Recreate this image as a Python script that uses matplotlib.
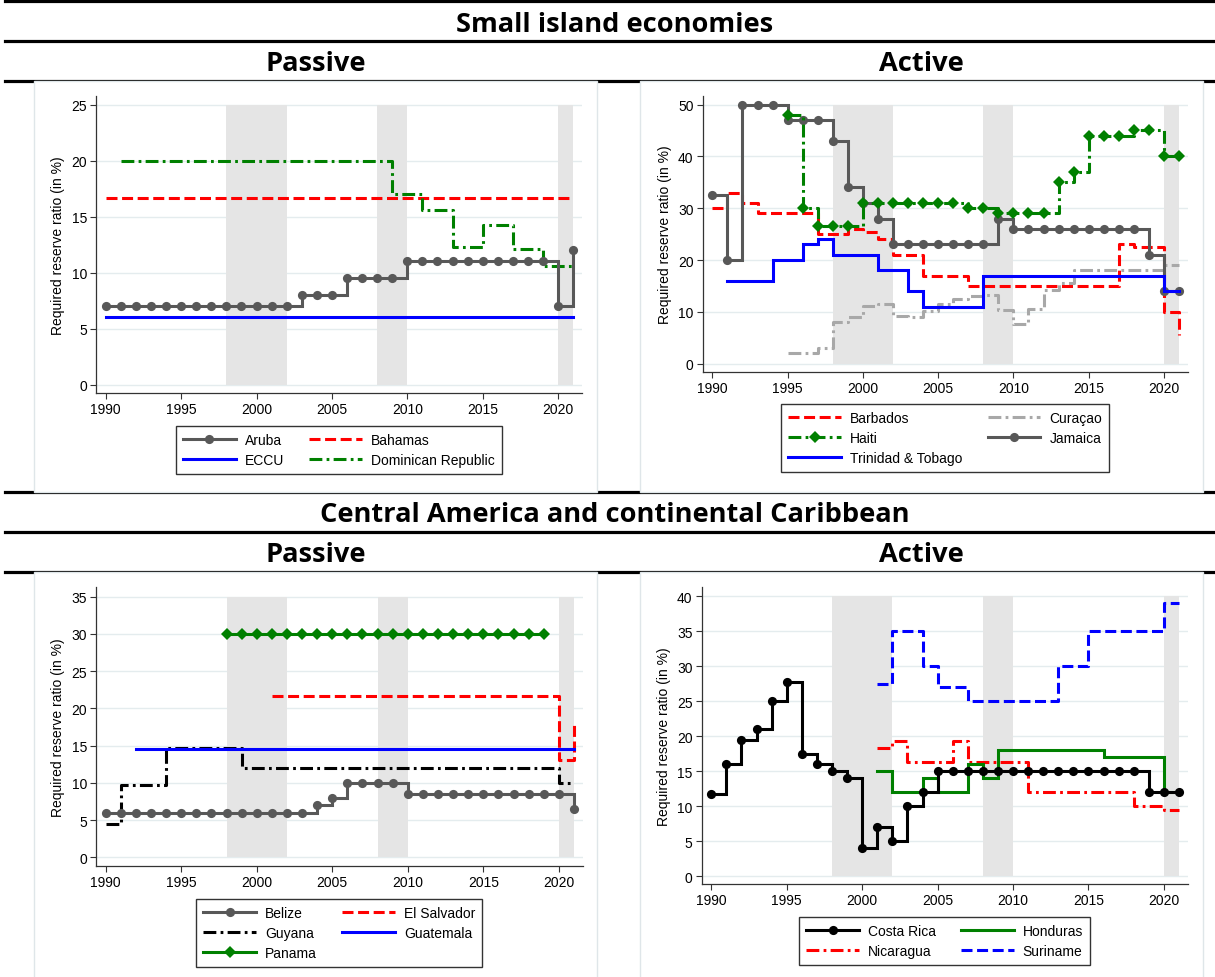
import numpy as np
import matplotlib
matplotlib.use("Agg")
import matplotlib.pyplot as plt
from matplotlib.patches import Rectangle
from matplotlib.lines import Line2D

W, H = 1215, 978
N = None
YEARS = list(range(1990, 2022))
BANDS = [(1998, 2002), (2008, 2010), (2020, 2021)]
XTICKS = [1990, 1995, 2000, 2005, 2010, 2015, 2020]
YLABEL = "Required reserve ratio (in %)"

# ---- Small island economies: passive ----
aruba = [7, 7, 7, 7, 7, 7, 7, 7, 7, 7, 7, 7, 7, 8, 8, 8, 9.5, 9.5, 9.5, 9.5,
         11, 11, 11, 11, 11, 11, 11, 11, 11, 11, 7, 12]
bahamas = [16.67, 16.67, 16.67, 16.67, 16.67, 16.67, 16.67, 16.67, 16.67, 16.67,
           16.67, 16.67, 16.67, 16.67, 16.67, 16.67, 16.67, 16.67, 16.67, 16.67,
           16.67, 16.67, 16.67, 16.67, 16.67, 16.67, 16.67, 16.67, 16.67, 16.67,
           16.67, 16.67]
eccu = [6, 6, 6, 6, 6, 6, 6, 6, 6, 6, 6, 6, 6, 6, 6, 6, 6, 6, 6, 6,
        6, 6, 6, 6, 6, 6, 6, 6, 6, 6, 6, 6]
dominican = [N, 20, 20, 20, 20, 20, 20, 20, 20, 20, 20, 20, 20, 20, 20, 20, 20, 20, 20,
             17, 17, 15.6, 15.6, 12.3, 12.3, 14.3, 14.3, 12.1, 12.1, 10.6, 10.6, 10.6]

# ---- Small island economies: active ----
barbados = [30, 33, 31, 29, 29, 29, 29, 25, 25, 26, 25.5, 24, 21, 21, 17, 17, 17,
            15, 15, 15, 15, 15, 15, 15, 15, 15, 15, 23, 22.5, 22.5, 10, 5.5]
curacao = [N, N, N, N, N, 2, 2, 3, 8, 9, 11.2, 11.5, 9.2, 9.0, 10.2, 11.5, 12.4,
           13.0, 13.3, 10.3, 7.7, 10.5, 14.2, 15.5, 18, 18, 18, 18, 18, 18, 19, 19]
haiti = [N, N, N, N, N, 48, 30, 26.5, 26.5, 26.5, 31, 31, 31, 31, 31, 31, 31,
         30, 30, 29, 29, 29, 29, 35, 37, 44, 44, 44, 45, 45, 40, 40]
jamaica = [32.5, 20, 50, 50, 50, 47, 47, 47, 43, 34, 31, 28, 23, 23, 23, 23, 23, 23, 23,
           28, 26, 26, 26, 26, 26, 26, 26, 26, 26, 21, 14, 14]
trinidad = [N, 16, 16, 16, 20, 20, 23, 24, 21, 21, 21, 18, 18, 14, 11, 11, 11, 11,
            17, 17, 17, 17, 17, 17, 17, 17, 17, 17, 17, 17, 14, 14]

# ---- Central America and continental Caribbean: passive ----
belize = [6, 6, 6, 6, 6, 6, 6, 6, 6, 6, 6, 6, 6, 6, 7, 8, 10, 10, 10, 10,
          8.5, 8.5, 8.5, 8.5, 8.5, 8.5, 8.5, 8.5, 8.5, 8.5, 8.5, 6.5]
el_salvador = [N, N, N, N, N, N, N, N, N, N, N, 21.7, 21.7, 21.7, 21.7, 21.7, 21.7,
               21.7, 21.7, 21.7, 21.7, 21.7, 21.7, 21.7, 21.7, 21.7, 21.7, 21.7, 21.7,
               21.7, 13, 18.3]
guyana = [4.5, 9.7, 9.7, 9.7, 14.7, 14.7, 14.7, 14.7, 14.7, 12, 12, 12, 12, 12, 12, 12,
          12, 12, 12, 12, 12, 12, 12, 12, 12, 12, 12, 12, 12, 12, 10, 10]
guatemala = [N, N, 14.6, 14.6, 14.6, 14.6, 14.6, 14.6, 14.6, 14.6, 14.6, 14.6, 14.6,
             14.6, 14.6, 14.6, 14.6, 14.6, 14.6, 14.6, 14.6, 14.6, 14.6, 14.6, 14.6,
             14.6, 14.6, 14.6, 14.6, 14.6, 14.6, 14.6]
panama = [N, N, N, N, N, N, N, N, 30, 30, 30, 30, 30, 30, 30, 30, 30, 30, 30, 30,
          30, 30, 30, 30, 30, 30, 30, 30, 30, 30, N, N]

# ---- Central America and continental Caribbean: active ----
costa_rica = [11.7, 16, 19.4, 21, 25, 27.7, 17.4, 16, 15, 14, 4, 7, 5, 10, 12,
              15, 15, 15, 15, 15, 15, 15, 15, 15, 15, 15, 15, 15, 15, 12, 12, 12]
honduras = [N, N, N, N, N, N, N, N, N, N, N, 15, 12, 12, 14, 12, 12, 16, 14,
            18, 18, 18, 18, 18, 18, 18, 17, 17, 17, 17, 12, 12]
nicaragua = [N, N, N, N, N, N, N, N, N, N, N, 18.3, 19.3, 16.3, 16.3, 16.3, 19.3,
             16.3, 16.3, 16.3, 16.3, 12, 12, 12, 12, 12, 12, 12, 10, 10, 9.4, 9.4]
suriname = [N, N, N, N, N, N, N, N, N, N, N, 27.5, 35, 35, 30, 27, 27, 25, 25, 25,
            25, 25, 25, 30, 30, 35, 35, 35, 35, 35, 39, 39]

# ---- styling ----
DARK = "#585858"
LIGHT = "#a8a8a8"
GREEN = "#008000"
RED = "#ff0000"
BLUE = "#0000ff"
BLACK = "#000000"
BAND = "#e5e5e5"
GRID = "#e4ecee"
FRAME = "#dfe6e9"
LW = 2.2
DASH = (0, (3.6, 1.5))
DASHDOT = (0, (4.2, 1.4, 0.9, 1.4))

TICK_FONT = "Liberation Sans"
TITLE_FONT = "Open Sans"

STYLE = {
    "Aruba": dict(color=DARK, ls="-", marker="o", ms=6.6),
    "Bahamas": dict(color=RED, ls=DASH),
    "ECCU": dict(color=BLUE, ls="-"),
    "Dominican Republic": dict(color=GREEN, ls=DASHDOT),
    "Barbados": dict(color=RED, ls=DASH),
    "Curaçao": dict(color=LIGHT, ls=DASHDOT),
    "Haiti": dict(color=GREEN, ls=DASHDOT, marker="D", ms=6.0),
    "Jamaica": dict(color=DARK, ls="-", marker="o", ms=6.6),
    "Trinidad & Tobago": dict(color=BLUE, ls="-"),
    "Belize": dict(color=DARK, ls="-", marker="o", ms=6.6),
    "El Salvador": dict(color=RED, ls=DASH),
    "Guyana": dict(color=BLACK, ls=DASHDOT),
    "Guatemala": dict(color=BLUE, ls="-"),
    "Panama": dict(color=GREEN, ls="-", marker="D", ms=6.0),
    "Costa Rica": dict(color=BLACK, ls="-", marker="o", ms=6.6),
    "Honduras": dict(color=GREEN, ls="-"),
    "Nicaragua": dict(color=RED, ls=DASHDOT),
    "Suriname": dict(color=BLUE, ls=DASH),
}

PANELS = [
    dict(box=(96.2, 96.7, 581.7, 394.0), ylim=(-0.74, 25.8), yticks=[0, 5, 10, 15, 20, 25],
         draw=[("Bahamas", bahamas), ("ECCU", eccu), ("Dominican Republic", dominican),
               ("Aruba", aruba)],
         legend=["Aruba", "ECCU", "Bahamas", "Dominican Republic"], leg_top=427),
    dict(box=(702.9, 96.7, 1187.5, 373.0), ylim=(-1.6, 51.7), yticks=[0, 10, 20, 30, 40, 50],
         draw=[("Barbados", barbados), ("Curaçao", curacao), ("Jamaica", jamaica),
               ("Haiti", haiti), ("Trinidad & Tobago", trinidad)],
         legend=["Barbados", "Haiti", "Trinidad & Tobago", "Curaçao", "Jamaica"], leg_top=405),
    dict(box=(96.2, 588.3, 582.5, 866.7), ylim=(-1.13, 36.26), yticks=[0, 5, 10, 15, 20, 25, 30, 35],
         draw=[("El Salvador", el_salvador), ("Guyana", guyana), ("Guatemala", guatemala),
               ("Belize", belize), ("Panama", panama)],
         legend=["Belize", "Guyana", "Panama", "El Salvador", "Guatemala"], leg_top=900),
    dict(box=(701.8, 588.3, 1187.5, 885.0), ylim=(-1.14, 41.28), yticks=[0, 5, 10, 15, 20, 25, 30, 35, 40],
         draw=[("Suriname", suriname), ("Nicaragua", nicaragua), ("Honduras", honduras),
               ("Costa Rica", costa_rica)],
         legend=["Costa Rica", "Nicaragua", "Honduras", "Suriname"], leg_top=918.3),
]

fig = plt.figure(figsize=(W / 100, H / 100), dpi=100)
fig.patch.set_facecolor("white")


def fx(x):
    return x / W


def fy(y):
    return 1 - y / H


# header rules and panel frames
for y in (2.0, 41.5, 81.5, 493.0, 533.0, 573.0):
    fig.add_artist(Line2D([fx(5), 1.0], [fy(y), fy(y)], transform=fig.transFigure,
                          color="black", lw=2.3, zorder=-3))
for (x0, y0, x1, y1) in [(34, 81.5, 597, 493), (640, 81.5, 1203, 493),
                         (34, 573, 597, 990), (640, 573, 1203, 990)]:
    fig.add_artist(Rectangle((fx(x0), fy(y1)), (x1 - x0) / W, (y1 - y0) / H,
                             transform=fig.transFigure, facecolor="white",
                             edgecolor=FRAME, lw=1.0, zorder=-2))

title_kw = dict(ha="center", va="baseline", fontsize=19.6, fontweight="bold",
                family=TITLE_FONT, color="black")
fig.text(fx(615), fy(31.5), "Small island economies", **title_kw)
fig.text(fx(315.5), fy(71), "Passive", **title_kw)
fig.text(fx(921.5), fy(71), "Active", **title_kw)
fig.text(fx(615), fy(522), "Central America and continental Caribbean", **title_kw)
fig.text(fx(315.5), fy(562), "Passive", **title_kw)
fig.text(fx(921.5), fy(562), "Active", **title_kw)

yrs = np.array(YEARS, dtype=float)

for p in PANELS:
    x0, y0, x1, y1 = p["box"]
    ax = fig.add_axes([fx(x0), fy(y1), (x1 - x0) / W, (y1 - y0) / H])
    ax.set_facecolor("none")
    ax.set_xlim(1989.37, 2021.565)
    ax.set_ylim(*p["ylim"])
    top = p["yticks"][-1]

    for a, b in BANDS:
        ax.fill_between([a, b], 0, top, color=BAND, lw=0, zorder=1)

    handles = {}
    for name, vals in p["draw"]:
        arr = np.array([np.nan if v is None else v for v in vals], dtype=float)
        ok = ~np.isnan(arr)
        st = STYLE[name]
        (ln,) = ax.step(yrs[ok], arr[ok], where="post", color=st["color"],
                        linestyle=st["ls"], lw=LW, marker=st.get("marker", None),
                        markersize=st.get("ms", 0), markeredgewidth=0,
                        markerfacecolor=st["color"], solid_joinstyle="miter",
                        dash_capstyle="butt", zorder=3, label=name)
        handles[name] = ln

    ax.set_yticks(p["yticks"])
    ax.set_xticks(XTICKS)
    ax.yaxis.grid(True, color=GRID, lw=1.0, zorder=0)
    ax.set_axisbelow(True)
    for s in ("top", "right"):
        ax.spines[s].set_visible(False)
    for s in ("left", "bottom"):
        ax.spines[s].set_color("#333333")
        ax.spines[s].set_linewidth(0.9)
    ax.tick_params(direction="out", length=4.2, width=0.8, color="#333333",
                   labelsize=10, labelcolor="black", pad=2.5)
    for lab in ax.get_xticklabels() + ax.get_yticklabels():
        lab.set_family(TICK_FONT)
    ax.set_ylabel(YLABEL, fontsize=10, family=TICK_FONT, color="black")
    ax.yaxis.set_label_coords(-31.0 / (x1 - x0), 0.5)

    leg = fig.legend([handles[n] for n in p["legend"]], p["legend"],
                     loc="upper center", bbox_to_anchor=(fx((x0 + x1) / 2), fy(p["leg_top"])),
                     bbox_transform=fig.transFigure, ncol=2, frameon=True, fancybox=False,
                     edgecolor="#333333", framealpha=1, borderaxespad=0,
                     prop=dict(family=TICK_FONT, size=10), handlelength=3.8,
                     handletextpad=0.65, columnspacing=1.8, labelspacing=0.44,
                     borderpad=0.5, numpoints=1)
    leg.get_frame().set_linewidth(1.0)

fig.savefig("out.png", dpi=100)
